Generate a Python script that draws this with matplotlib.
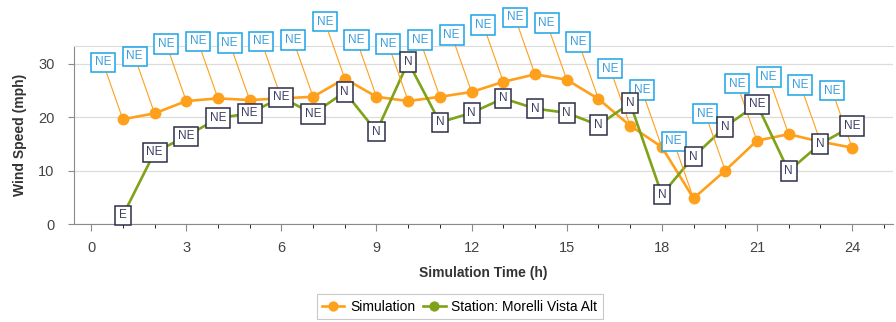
#!/usr/bin/env python3
# wind_speed.py

import matplotlib
matplotlib.use("Agg")
import matplotlib.pyplot as plt
from matplotlib.ticker import MultipleLocator

plt.rcParams["font.family"] = ["Liberation Sans", "DejaVu Sans"]

hours = list(range(1, 25))
sim_speed = [19.6, 20.7, 23.0, 23.5, 23.2, 23.5, 23.8, 27.2, 23.8, 23.0, 23.8, 24.7,
             26.6, 28.0, 27.0, 23.4, 18.4, 14.4, 4.8, 10.0, 15.6, 16.8, 15.4, 14.3]
sim_dir = ["NE"] * 24
station_speed = [1.6, 13.4, 16.4, 19.8, 20.7, 23.7, 20.6, 24.7, 17.3, 30.3, 19.0, 20.8,
                 23.5, 21.6, 20.8, 18.5, 22.6, 5.5, 12.6, 18.2, 22.4, 9.9, 15.0, 18.3]
station_dir = ["E", "NE", "NE", "NE", "NE", "NE", "NE", "N", "N", "N", "N", "N",
               "N", "N", "N", "N", "N", "N", "N", "N", "NE", "N", "N", "NE"]

orange = "#ffa01c"
green = "#7ea319"
cyan = "#1aa3e8"
navy = "#2e2e48"

fig = plt.figure(figsize=(8.96, 3.22), dpi=100)
ax = fig.add_axes([0.0826, 0.3043, 0.914, 0.5528])

ax.plot(hours, sim_speed, color=orange, lw=1.9, marker="o", ms=7.5,
        label="Simulation", zorder=3)
ax.plot(hours, station_speed, color=green, lw=1.9, marker="o", ms=7.5,
        label="Station: Morelli Vista Alt", zorder=4)

# Simulation direction labels, offset up-left with a leader line
for h, v, d in zip(hours, sim_speed, sim_dir):
    ax.annotate(d, (h, v), xytext=(-14.4, 41), textcoords="offset points",
                ha="center", va="center", fontsize=8.5, color="#3a9fdc",
                bbox=dict(boxstyle="square,pad=0.32", fc="white", ec=cyan, lw=1.1),
                arrowprops=dict(arrowstyle="-", color=orange, lw=0.8,
                                shrinkA=0, shrinkB=0),
                annotation_clip=False, zorder=5)

# Station direction labels sit on the points
for h, v, d in zip(hours, station_speed, station_dir):
    ax.annotate(d, (h, v), ha="center", va="center", fontsize=8.5, color="#3d3d66",
                bbox=dict(boxstyle="square,pad=0.32", fc="white", ec=navy, lw=1.1),
                annotation_clip=False, zorder=6)

ax.set_xlim(-0.54, 25.29)
ax.set_ylim(0, 33.3)
ax.xaxis.set_major_locator(MultipleLocator(3))
ax.xaxis.set_minor_locator(MultipleLocator(1))
ax.yaxis.set_major_locator(MultipleLocator(10))
ax.grid(axis="y", color="#dcdcdc", lw=0.9)
ax.set_axisbelow(True)

ax.spines["right"].set_visible(False)
ax.spines["top"].set_color("#dcdcdc")
ax.spines["left"].set_color("#8a8a8a")
ax.spines["bottom"].set_color("#8a8a8a")
ax.tick_params(axis="both", colors="#8a8a8a", labelcolor="#444444", labelsize=10.5)
ax.tick_params(axis="x", which="major", length=5, pad=7)
ax.tick_params(axis="x", which="minor", length=3)
ax.tick_params(axis="y", length=4, pad=10)

ax.set_xlabel("Simulation Time (h)", fontsize=10, fontweight="bold",
              color="#333333", labelpad=8)
ax.set_ylabel("Wind Speed (mph)", fontsize=10, fontweight="bold",
              color="#333333", labelpad=8)

leg = fig.legend(loc="center", bbox_to_anchor=(0.513, 0.047), ncol=2,
                 fontsize=10, frameon=True, fancybox=False, handlelength=1.6,
                 columnspacing=0.6, handletextpad=0.4, borderpad=0.4,
                 markerscale=0.85)
leg.get_frame().set_edgecolor("#bbbbbb")
leg.get_frame().set_linewidth(0.8)

fig.savefig("out.png", dpi=100)
